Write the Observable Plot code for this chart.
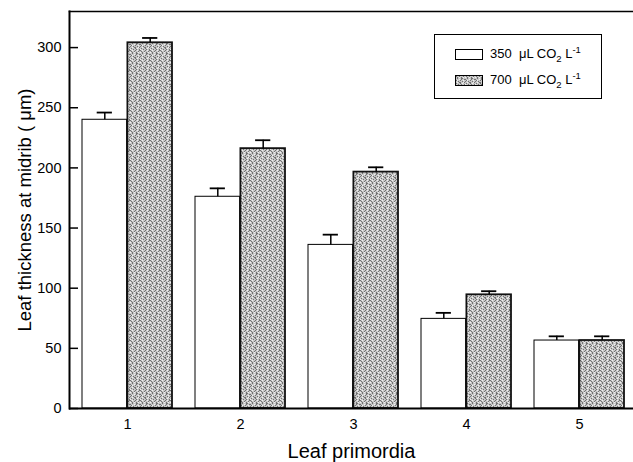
<!DOCTYPE html>
<html>
<head>
<meta charset="utf-8">
<script src="https://cdn.jsdelivr.net/npm/d3@7"></script>
<script src="https://cdn.jsdelivr.net/npm/@observablehq/plot@0.6"></script>
<style>
  body { margin: 0; background: #fff; }
  #wrap { position: relative; width: 633px; height: 462px; font-family: "Liberation Sans", Arial, sans-serif; }
  #legend { position: absolute; left: 434px; top: 34px; width: 166px; height: 63px; border: 1.5px solid #000; background: #fff; }
  .row { position: absolute; left: 20px; height: 16px; display: flex; align-items: center; font-size: 13px; color: #000; white-space: nowrap; }
  .sw { width: 28px; height: 11px; margin-right: 7px; display: block; }
  sub, sup { font-size: 9.5px; }
</style>
</head>
<body>
<div id="wrap"></div>
<script>
const groups = ["1", "2", "3", "4", "5"];
const ambient = [240, 176, 136, 74.5, 56.5];
const ambientErr = [6, 7, 8.5, 5, 3.5];
const elevated = [304, 216, 196.5, 94.5, 56.5];
const elevatedErr = [4, 7, 4, 3, 3.5];
const seriesNames = ["350", "700"];
const yTicks = [0, 50, 100, 150, 200, 250, 300];

const rows = groups.map((g, i) => ({
  group: g,
  a: ambient[i], aTop: ambient[i] + ambientErr[i],
  e: elevated[i], eTop: elevated[i] + elevatedErr[i]
}));

const W = 633, H = 462, mL = 69, mT = 11, mB = 54;
const step = 113.5, bw = step * 0.8, half = bw / 2, cap = 8;
const font = "Liberation Sans, Arial, sans-serif";

const chart = Plot.plot({
  width: W, height: H,
  marginLeft: mL, marginRight: 0, marginTop: mT, marginBottom: mB,
  style: { fontFamily: font, background: "#fff", color: "#000" },
  x: { domain: groups, range: [mL, mL + step * 5], paddingInner: 0.2, paddingOuter: 0.1, axis: null },
  y: { domain: [0, 330], axis: null },
  marks: [
    Plot.barY(rows, { x: "group", y: "a", fill: "white", stroke: "black", strokeWidth: 1, insetRight: half }),
    Plot.barY(rows, { x: "group", y: "e", fill: "url(#grain)", stroke: "#111", strokeWidth: 1.8, insetLeft: half }),
    Plot.ruleX(rows, { x: "group", y1: "a", y2: "aTop", dx: -half / 2, stroke: "black", strokeWidth: 1.5 }),
    Plot.ruleX(rows, { x: "group", y1: "e", y2: "eTop", dx: half / 2, stroke: "black", strokeWidth: 1.5 }),
    Plot.tickY(rows, { x: "group", y: "aTop", insetLeft: half / 2 - cap, insetRight: bw - half / 2 - cap, stroke: "black", strokeWidth: 1.8 }),
    Plot.tickY(rows, { x: "group", y: "eTop", insetLeft: half + half / 2 - cap, insetRight: half / 2 - cap, stroke: "black", strokeWidth: 1.8 }),
    Plot.tickY(yTicks, { y: d => d, insetRight: W - mL - 9, stroke: "black", strokeWidth: 1.5 }),
    Plot.axisY({ ticks: yTicks, tickSize: 0, tickPadding: 8, fontSize: 14.5, fill: "#000" }),
    Plot.axisX({ tickSize: 0, tickPadding: 10, fontSize: 14.5, label: null, fill: "#000" }),
    Plot.ruleY([0], { stroke: "black", strokeWidth: 2 }),
    Plot.frame({ anchor: "top", stroke: "black", strokeWidth: 1.5 }),
    Plot.frame({ anchor: "left", stroke: "black", strokeWidth: 2 }),
    Plot.text(["Leaf primordia"], { frameAnchor: "bottom", dy: 43, lineAnchor: "middle", textAnchor: "middle", fontSize: 20, fill: "#000" }),
    Plot.text(["Leaf thickness at midrib ( μm)"], { frameAnchor: "left", dx: -44, rotate: -90, lineAnchor: "middle", textAnchor: "middle", fontSize: 18.5, fill: "#000" })
  ]
});

// stippled texture for the elevated CO2 bars (fixed 10x10 tile)
const tile = [
  "d.l..d.l.d",
  ".d..d...d.",
  "l.d.l.d.l.",
  "..d...dd..",
  "d...l.d..d",
  ".dl..d..l.",
  "d..d...d..",
  "..l.dd..ld",
  ".d...d.l..",
  "l..d..d..d"
];
function addPattern(svgSel, id) {
  const defs = svgSel.insert("defs", ":first-child");
  const pat = defs.append("pattern").attr("id", id).attr("patternUnits", "userSpaceOnUse")
    .attr("width", 10).attr("height", 10);
  pat.append("rect").attr("width", 10).attr("height", 10).attr("fill", "#c8c8c8");
  tile.forEach((line, py) => [...line].forEach((c, px) => {
    if (c === ".") return;
    pat.append("rect").attr("x", px).attr("y", py).attr("width", 1).attr("height", 1)
      .attr("fill", c === "d" ? "#727272" : "#f0f0f0");
  }));
}
addPattern(d3.select(chart), "grain");

const wrap = document.getElementById("wrap");
wrap.appendChild(chart);

// legend
const legend = d3.select(wrap).append("div").attr("id", "legend");
seriesNames.forEach((name, i) => {
  const row = legend.append("div").attr("class", "row").style("top", (i === 0 ? 11 : 37) + "px");
  const sw = row.append("svg").attr("class", "sw").attr("width", 28).attr("height", 11);
  sw.append("rect").attr("x", 0.5).attr("y", 0.5).attr("width", 27).attr("height", 10)
    .attr("fill", i === 0 ? "#fff" : "url(#grain)").attr("stroke", "#000").attr("stroke-width", 1);
  row.append("span").html(`${name}&nbsp; μL CO<sub>2</sub> L<sup>-1</sup>`);
});
</script>
</body>
</html>
